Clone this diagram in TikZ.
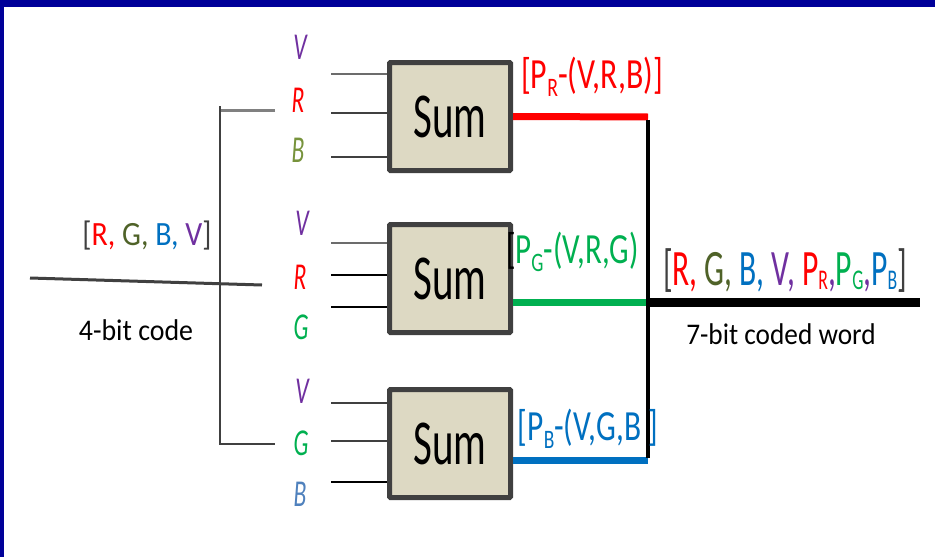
\documentclass[tikz,border=0pt]{standalone}
\usepackage{fontspec}
\usepackage{graphicx}
\setmainfont{Carlito}
\definecolor{cR}{HTML}{FF0000}
\definecolor{cGo}{HTML}{4F6228}
\definecolor{cBo}{HTML}{77933C}
\definecolor{cGg}{HTML}{00B050}
\definecolor{cB}{HTML}{0070C0}
\definecolor{cV}{HTML}{7030A0}
\definecolor{cBl}{HTML}{4F81BD}
\definecolor{cFrame}{HTML}{000099}
\definecolor{cBox}{HTML}{DDD9C3}
\definecolor{cBorder}{HTML}{404040}
\newcommand\sq[3]{\scalebox{#1}[1]{\fontsize{#2}{#2}\selectfont #3}}
\newcommand\sbs[1]{\raisebox{-0.2em}{\scalebox{0.62}{#1}}}
\newcommand\sbr[1]{\raisebox{-0.08em}{\scalebox{0.56}{#1}}}
\begin{document}
\begin{tikzpicture}[x=1pt,y=-1pt,
  sumbox/.style={draw=cBorder, fill=cBox, line width=5pt, minimum width=121pt, minimum height=108pt, inner sep=0pt, rounded corners=1pt},
  lbl/.style={inner sep=0pt, outer sep=0pt, font=\itshape},
  txt/.style={inner sep=0pt, outer sep=0pt},
  inwire/.style={draw=cBorder, line width=2pt},
  outwire/.style={line width=7pt},
  ]
\useasboundingbox (0,0) rectangle (935,557);
\fill[white] (0,0) rectangle (935,557);
\fill[cFrame] (0,0) rectangle (935,7);
\fill[cFrame] (0,0) rectangle (4,557);

% boxes
\node[sumbox] (s1) at (450,116.5) {\sq{0.64}{64}{Sum}};
\node[sumbox] (s2) at (450,278.5) {\sq{0.64}{64}{Sum}};
\node[sumbox] (s3) at (450,443.5) {\sq{0.64}{64}{Sum}};

% input labels
\node[lbl,text=cV]  (l11) at (300,47)  {\sq{0.62}{38}{V}};
\node[lbl,text=cR]  (l12) at (298,100) {\sq{0.62}{38}{R}};
\node[lbl,text=cBo] (l13) at (298,150) {\sq{0.62}{38}{B}};
\node[lbl,text=cV]  (l21) at (302,223) {\sq{0.62}{38}{V}};
\node[lbl,text=cR]  (l22) at (300,277) {\sq{0.62}{38}{R}};
\node[lbl,text=cGg] (l23) at (301,327) {\sq{0.62}{38}{G}};
\node[lbl,text=cV]  (l31) at (302,391) {\sq{0.62}{38}{V}};
\node[lbl,text=cGg] (l32) at (301,443) {\sq{0.62}{38}{G}};
\node[lbl,text=cBl] (l33) at (300,494) {\sq{0.62}{38}{B}};

% input wires
\coordinate (i11) at (331,74);
\coordinate (i12) at (331,113);
\coordinate (i13) at (331,157);
\coordinate (i21) at (331,243);
\coordinate (i22) at (331,275);
\coordinate (i23) at (331,307);
\coordinate (i31) at (331,403);
\coordinate (i32) at (331,441);
\coordinate (i33) at (331,482);
\draw[inwire,draw=gray!85!black] (i11) -- (i11 -| s1.west);
\draw[inwire] (i12) -- (i12 -| s1.west);
\draw[inwire] (i13) -- (i13 -| s1.west);
\draw[inwire,draw=gray!85!black] (i21) -- (i21 -| s2.west);
\draw[inwire,draw=black] (i22) -- (i22 -| s2.west);
\draw[inwire,draw=black] (i23) -- (i23 -| s2.west);
\draw[inwire] (i31) -- (i31 -| s3.west);
\draw[inwire] (i32) -- (i32 -| s3.west);
\draw[inwire,draw=black] (i33) -- (i33 -| s3.west);

% left bracket and input line
\coordinate (bt) at (275,110);
\coordinate (btc) at (220,110);
\coordinate (bvt) at (220,106);
\coordinate (bvb) at (220,444);
\coordinate (bb) at (275,444);
\draw[line width=3pt, draw=gray] (bt) -- (btc);
\draw[line width=2pt, draw=cBorder] (bvt) -- (bvb) -- (bb);
\coordinate (h1) at (30,278);
\coordinate (h2) at (262,285);
\draw[line width=3pt, draw=cBorder] (h1) -- (h2);

% outputs
\coordinate (j1) at (648,117);
\coordinate (j2) at (648,302);
\coordinate (j3) at (648,460);
\coordinate (out) at (920,302);
\draw[outwire, draw=cR] (s1.east) -- (j1);
\draw[outwire, draw=cGg] (s2.east |- j2) -- (j2);
\draw[outwire, draw=cB] (s3.east |- j3) -- (j3);
\draw[line width=4pt] ([yshift=-3pt]j1) -- ([yshift=2pt]j3);
\draw[line width=9pt] (j2) -- (out);

% texts
\node[txt, anchor=base] (code4) at (147,245) {\sq{0.88}{34}{\textcolor{cBorder}{[}\textcolor{cR}{R,} \textcolor{cGo}{G,} \textcolor{cB}{B,} \textcolor{cV}{V}\textcolor{cBorder}{]}}};
\node[txt, anchor=base] (lab4) at (136,340) {\sq{0.93}{30}{4-bit code}};
\node[txt, anchor=base, text=cR] (pr) at (592,88) {\sq{0.74}{43}{[P\sbs{R}-(V,R,B)]}};
\node[txt, anchor=base west] (pg) at (506,263) {\sq{0.72}{43}{\textcolor{black}{[}\textcolor{cGg}{P\sbs{G}-(V,R,G)}}};
\node[txt, anchor=base, text=cB] (pb) at (588,440) {\sq{0.73}{43}{[P\sbs{B}-(V,G,B\ ]}};
\node[txt, anchor=base] (code7) at (785,285) {\sq{0.62}{51}{\textcolor{cBorder}{[}\textcolor{cR}{R,} \textcolor{cGo}{G,} \textcolor{cB}{B,} \textcolor{cV}{V,} \textcolor{cR}{P\sbr{R}}\textcolor{cV}{,}\textcolor{cGg}{P\sbr{G}}\textcolor{cV}{,}\textcolor{cB}{P\sbr{B}}\textcolor{cBorder}{]}}};
\node[txt, anchor=base] (lab7) at (781,344) {\sq{0.91}{30}{7-bit coded word}};
\end{tikzpicture}
\end{document}
